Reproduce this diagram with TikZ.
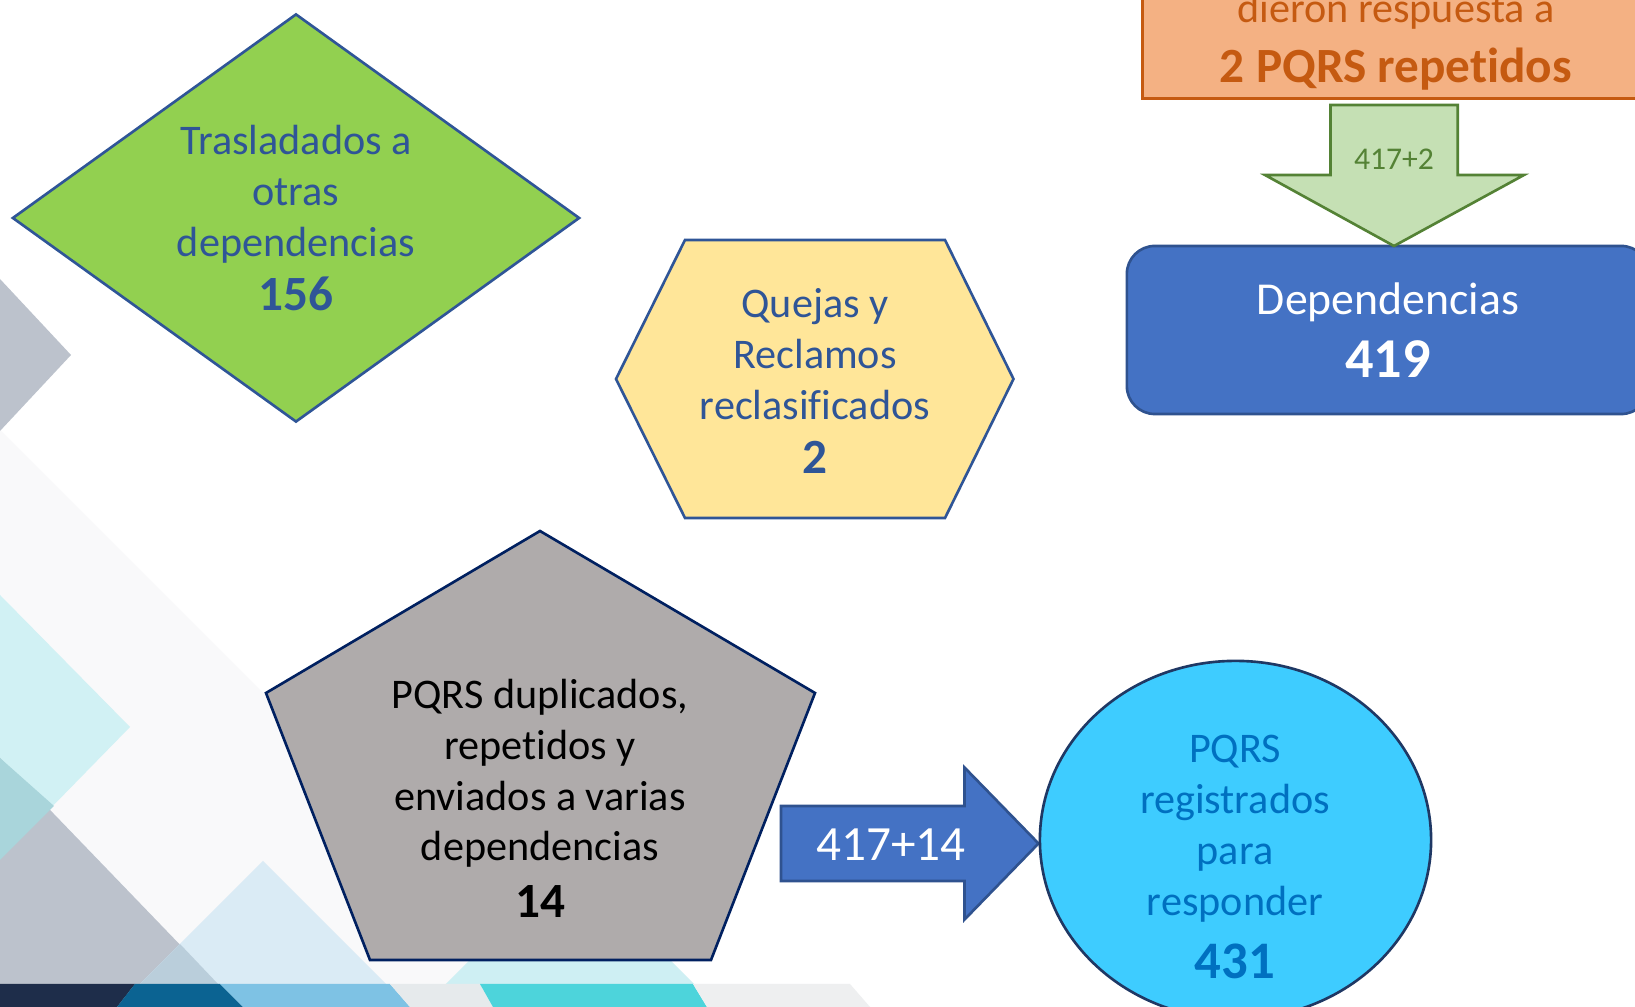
\documentclass[tikz,border=0pt]{standalone}
\usepackage{fontspec}
\setmainfont{Carlito}[Ligatures=NoCommon]
\usepackage{xcolor}
\usepackage{tikz}
\usetikzlibrary{positioning, shapes.geometric, calc}
\definecolor{pqBlue}{RGB}{68,114,196}
\definecolor{pqBlueLine}{RGB}{47,82,143}
\definecolor{pqText}{RGB}{47,85,151}
\definecolor{pqGreen}{RGB}{146,208,80}
\definecolor{pqYellow}{RGB}{255,230,153}
\definecolor{pqGray}{RGB}{175,171,171}
\definecolor{pqNavy}{RGB}{0,32,96}
\definecolor{pqCyan}{RGB}{62,204,255}
\definecolor{pqCyanLine}{RGB}{31,56,100}
\definecolor{pqCyanText}{RGB}{0,112,192}
\definecolor{pqOrange}{RGB}{244,177,131}
\definecolor{pqOrangeDark}{RGB}{197,90,17}
\definecolor{pqLeaf}{RGB}{197,224,180}
\definecolor{pqLeafDark}{RGB}{84,130,53}
% background colours
\definecolor{bgFaint}{RGB}{249,249,250}
\definecolor{bgGray}{RGB}{188,194,204}
\definecolor{bgCyan}{RGB}{209,241,244}
\definecolor{bgTeal}{RGB}{169,213,219}
\definecolor{bgSky}{RGB}{218,235,245}
\definecolor{bgSkyGray}{RGB}{186,206,219}
\definecolor{bgPale}{RGB}{206,239,243}
\definecolor{stripNavy}{RGB}{30,45,74}
\definecolor{stripBlue}{RGB}{11,99,146}
\definecolor{stripSky}{RGB}{126,194,228}
\definecolor{stripGray}{RGB}{230,234,236}
\definecolor{stripCyan}{RGB}{77,212,219}
\definecolor{stripLight}{RGB}{238,239,240}
\newcommand{\pqnum}[1]{{\fontsize{14}{16}\selectfont\bfseries #1}}

\begin{document}
\begin{tikzpicture}[x=0.01cm, y=-0.01cm, line width=0.75pt,
	txt/.style={align=center, font=\fontsize{12}{14.5}\selectfont, inner sep=0pt}]
	\useasboundingbox (0,0) rectangle (1635,1007);
	\clip (0,0) rectangle (1635,1007);
	% background
	\fill[white] (0,0) rectangle (1635,1007);
	\fill[bgFaint] (0,430) -- (577,1007) -- (0,1007) -- cycle;
	\fill[bgGray] (0,279) -- (71,355) -- (0,431) -- cycle;
	\fill[bgCyan] (0,595) -- (130,727) -- (0,860) -- cycle;
	\fill[bgGray] (0,758) -- (240,1007) -- (0,1007) -- cycle;
	\fill[bgTeal] (0,758) -- (54,806) -- (0,860) -- cycle;
	\fill[bgSky] (263,861) -- (409,1007) -- (117,1007) -- cycle;
	\fill[bgSkyGray] (180,944) -- (218,984) -- (140,984) -- cycle;
	\fill[bgPale] (570,860) -- (697,987) -- (443,987) -- cycle;
	\fill[stripNavy] (0,984) -- (135,984) -- (117,1007) -- (0,1007) -- cycle;
	\fill[stripBlue] (135,984) -- (220,984) -- (243,1007) -- (117,1007) -- cycle;
	\fill[stripSky] (220,984) -- (390,984) -- (410,1007) -- (243,1007) -- cycle;
	\fill[stripGray] (390,984) -- (480,984) -- (493,1007) -- (410,1007) -- cycle;
	\fill[stripCyan] (480,984) -- (693,984) -- (707,1007) -- (493,1007) -- cycle;
	\fill[stripLight] (693,984) -- (850,984) -- (870,1007) -- (707,1007) -- cycle;

	% diamond
	\node[diamond, draw=pqText, fill=pqGreen, minimum width=5.67cm, minimum height=4.08cm, aspect=1.39, txt, text=pqText] (trasl) at (296,218) {Trasladados a\\otras\\dependencias\\[1pt]\pqnum{156}};

	% hexagon
	\filldraw[draw=pqText, fill=pqYellow] (685,240) -- (945,240) -- (1013.5,379) -- (945,518) -- (685,518) -- (616,379) -- cycle;
	\node[txt, text=pqText] (quejas) at (815,381) {Quejas y\\Reclamos\\reclasificados\\[1pt]\pqnum{2}};

	% pentagon
	\filldraw[draw=pqNavy, fill=pqGray] (540,531) -- (815,693) -- (711,960) -- (370,960) -- (266,693) -- cycle;
	\node[txt, text=black] (dupl) at (540,798) {PQRS duplicados,\\repetidos y\\enviados a varias\\dependencias\\[1.5pt]\pqnum{14}};

	% blue arrow
	\filldraw[draw=pqBlueLine, fill=pqBlue] (781,806) -- (964.5,806) -- (964.5,767.5) -- (1038.5,843.5) -- (964.5,919.6) -- (964.5,881) -- (781,881) -- cycle;
	\node[font=\fontsize{14}{16}\selectfont, text=white, inner sep=0pt] (sum14) at (891,845) {417+14};

	% ellipse
	\node[ellipse, draw=pqCyanLine, fill=pqCyan, minimum width=3.91cm, minimum height=3.58cm] (regist) at (1235.5,840) {};
	\node[txt, text=pqCyanText] (registxt) at (1235,857) {PQRS\\registrados\\para\\responder\\[3.5pt]{\fontsize{15}{17}\selectfont\bfseries 431}};

	% dependencias
	\node[rounded corners=0.28cm, draw=pqBlueLine, fill=pqBlue, minimum width=5.22cm, minimum height=1.68cm, align=center, text=white, font=\fontsize{13}{15.5}\selectfont] (depend) at (1388,330) {Dependencias\\[2.5pt]{\fontsize{16}{18}\selectfont\bfseries 419}};

	% orange box
	\node[anchor=south west, draw=pqOrangeDark, fill=pqOrange, minimum width=5.07cm, minimum height=1.14cm, inner ysep=1pt, align=center, text=pqOrangeDark, font=\fontsize{12}{15}\selectfont] (orange) at (1141,100) {dieron respuesta a\\[2pt]{\fontsize{14}{16}\selectfont\bfseries 2 PQRS repetidos}};

	% green arrow
	\filldraw[draw=pqLeafDark, fill=pqLeaf] (1330.5,105) -- (1457.7,105) -- (1457.7,175) -- (1524,175) -- (1394,246) -- (1265,175) -- (1330.5,175) -- cycle;
	\node[font=\fontsize{9}{11}\selectfont, text=pqLeafDark, inner sep=0pt] (sum2) at (1394,159) {417+2};
\end{tikzpicture}
\end{document}
